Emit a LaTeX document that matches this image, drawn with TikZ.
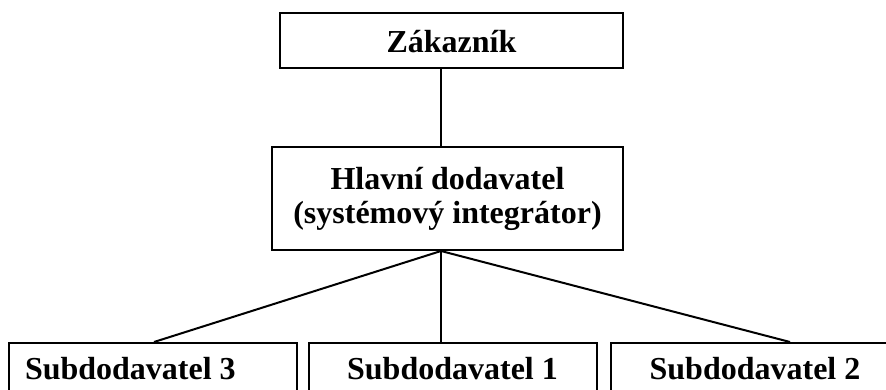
\documentclass[tikz,border=0pt]{standalone}
\usepackage{fontspec}
\setmainfont{Liberation Serif}
\begin{document}
\begin{tikzpicture}[x=1pt,y=-1pt,line width=2pt,
  box/.style={draw, rectangle, inner sep=0pt, font=\bfseries\fontsize{32}{34}\selectfont},
  subbox/.style={box, minimum width=288pt, minimum height=57pt, text height=25pt, text depth=10pt}]
\useasboundingbox (0,0) rectangle (886,390);
\node[box, minimum width=343pt, minimum height=55pt, text height=25pt, text depth=0pt] (zak) at (451.5,40.5) {Zákazník};
\node[box, minimum width=351pt, minimum height=103pt, align=center] (hd) at (447.5,198.5) {Hlavní dodavatel\\(systémový integrátor)};
\node[subbox, text width=256pt, inner xsep=16pt, align=flush left] (sub3) at (153,371.5) {Subdodavatel 3};
\node[subbox] (sub1) at (452.5,371.5) {Subdodavatel 1};
\node[subbox] (sub2) at (755,371.5) {Subdodavatel 2};
\coordinate (hub) at (441,0);
\draw (zak.south -| hub) -- (hd.north -| hub);
\draw (hd.south -| hub) -- ([xshift=146pt]sub3.north west);
\draw (hd.south -| hub) -- (sub1.north -| hub);
\draw (hd.south -| hub) -- ([xshift=180pt]sub2.north west);
\end{tikzpicture}
\end{document}
